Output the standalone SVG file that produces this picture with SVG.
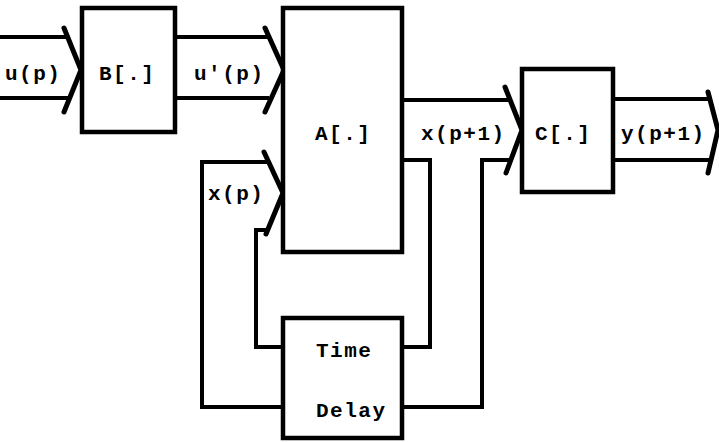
<svg xmlns="http://www.w3.org/2000/svg" width="719" height="442" viewBox="0 0 719 442">
<style>
.box{fill:#fff;stroke:#000;stroke-width:4.5}
.ln{fill:none;stroke:#000;stroke-width:4;stroke-linejoin:miter}
.ch{fill:none;stroke:#000;stroke-width:5;stroke-linecap:round;stroke-linejoin:miter}
text{font-family:"Liberation Mono","Courier New",monospace;font-weight:bold;font-size:21px;letter-spacing:1.5px;fill:#000}
</style>
<rect width="719" height="442" fill="#fff"/>
<g id="connectors">
<path class="ln" d="M0,37 H68 M0,98 H68"/>
<path class="ch" d="M64,28 L81,70 L64,112"/>
<path class="ln" d="M175,37 H269 M175,98 H269"/>
<path class="ch" d="M265,28 L284,70 L265,112"/>
<path class="ln" d="M283,407 H202 V162 H269"/>
<path class="ln" d="M283,347 H256 V230 H268"/>
<path class="ch" d="M264,152 L283,193 L266,234"/>
<path class="ln" d="M402,100 H510 M402,160 H430 V347 H402 M402,407 H482 V160 H511"/>
<path class="ch" d="M505,87 L522,130 L506,173"/>
<path class="ln" d="M613,99 H712 M613,160 H712"/>
<path class="ch" d="M708,92 L718,130 L708,173"/>
</g>
<g id="B"><rect class="box" x="82" y="8" width="93" height="124"/><text x="99" y="80">B[.]</text></g>
<g id="A"><rect class="box" x="283" y="8" width="119" height="244"/><text x="315" y="140">A[.]</text></g>
<g id="C"><rect class="box" x="522" y="69" width="91" height="123"/><text x="535" y="140">C[.]</text></g>
<g id="delay"><rect class="box" x="283" y="318" width="119" height="120"/><text x="316" y="357">Time</text><text x="316" y="417">Delay</text></g>
<g id="labels">
<text x="5" y="80">u(p)</text>
<text x="194" y="80">u'(p)</text>
<text x="208" y="200">x(p)</text>
<text x="421" y="140">x(p+1)</text>
<text x="621" y="140">y(p+1)</text>
</g>
</svg>
